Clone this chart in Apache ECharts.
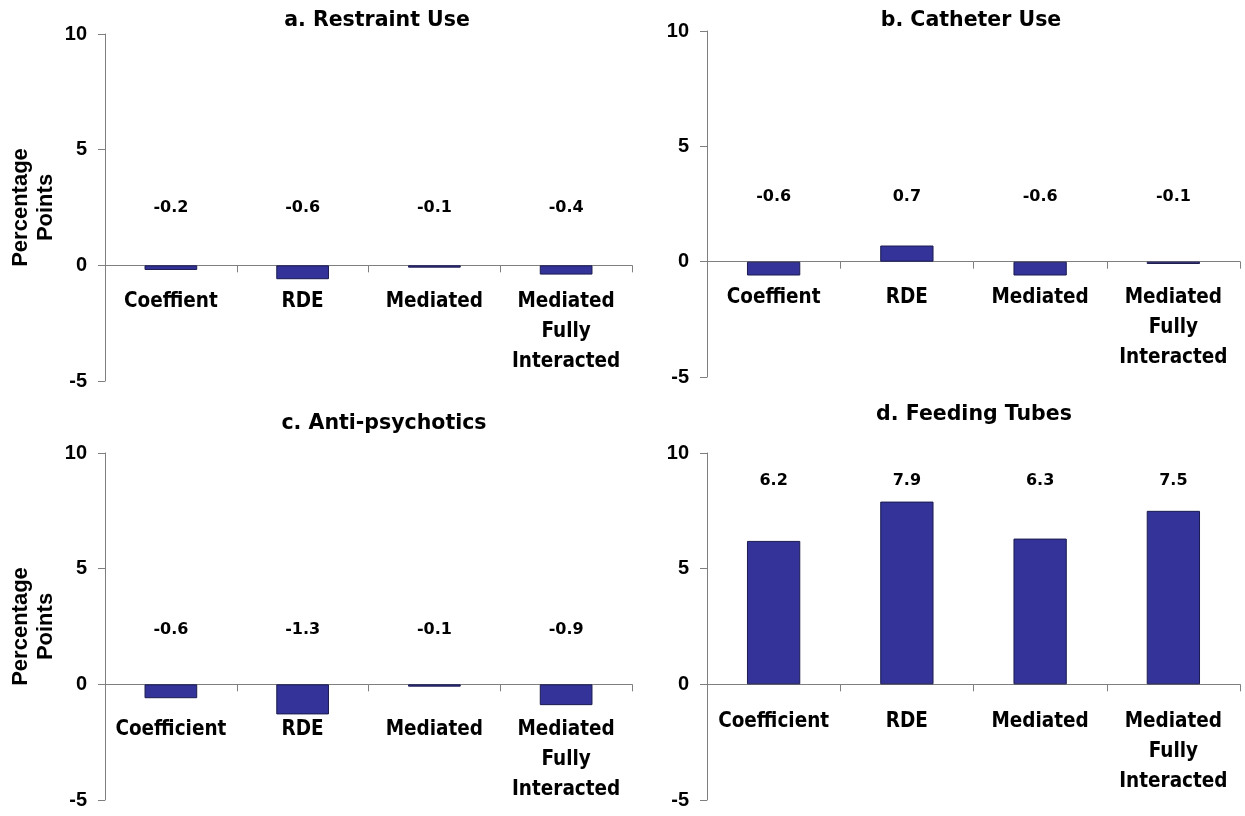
<!DOCTYPE html>
<html>
<head>
<meta charset="utf-8">
<script src="https://cdn.jsdelivr.net/npm/echarts@6/dist/echarts.min.js"></script>
<style>
html,body{margin:0;padding:0;background:#fff;}
#chart{width:1245px;height:816px;}
</style>
</head>
<body>
<div id="chart"></div>
<script>
// ---- data ----
const panelTitles = ['a. Restraint Use', 'b. Catheter Use', 'c. Anti-psychotics', 'd. Feeding Tubes'];
const categoriesTop = ['Coeffient', 'RDE', 'Mediated', 'Mediated\nFully\nInteracted'];
const categoriesBottom = ['Coefficient', 'RDE', 'Mediated', 'Mediated\nFully\nInteracted'];
const restraintUse = [-0.2, -0.6, -0.1, -0.4];
const catheterUse = [-0.6, 0.7, -0.6, -0.1];
const antiPsychotics = [-0.6, -1.3, -0.1, -0.9];
const feedingTubes = [6.2, 7.9, 6.3, 7.5];
const yAxisMin = -5, yAxisMax = 10, yAxisInterval = 5;
const yAxisName = 'Percentage\nPoints';

// ---- layout ----
const panels = [
  { title: panelTitles[0], cats: categoriesTop, values: restraintUse, grid: { left: 105, top: 34, width: 527, height: 347 }, titlePos: [377, 21], labelLevel: 2.5, catGap: 21, showName: true },
  { title: panelTitles[1], cats: categoriesTop, values: catheterUse, grid: { left: 707, top: 31, width: 533, height: 346 }, titlePos: [971, 21], labelLevel: 2.8, catGap: 21, showName: false },
  { title: panelTitles[2], cats: categoriesBottom, values: antiPsychotics, grid: { left: 105, top: 453, width: 527, height: 347 }, titlePos: [384, 424], labelLevel: 2.35, catGap: 30, showName: true },
  { title: panelTitles[3], cats: categoriesBottom, values: feedingTubes, grid: { left: 707, top: 453, width: 533, height: 347 }, titlePos: [974, 415], labelLevel: 8.8, catGap: 22, showName: false }
];

const axisGray = '#7f7f7f';
const catFont = "'DejaVu Sans Condensed', 'DejaVu Sans', sans-serif";
const tickFont = "'Liberation Sans', Arial, sans-serif";

const grids = [], xAxes = [], yAxes = [], series = [], graphics = [];
panels.forEach((p, i) => {
  grids.push(Object.assign({ containLabel: false, outerBoundsMode: 'none' }, p.grid));
  xAxes.push({
    type: 'category', gridIndex: i, data: p.cats,
    axisLine: { onZero: true, lineStyle: { color: axisGray, width: 1 } },
    axisTick: { show: true, length: 7, inside: false, lineStyle: { color: axisGray } },
    axisLabel: { show: false },
    splitLine: { show: false }
  });
  yAxes.push({
    type: 'value', gridIndex: i, min: yAxisMin, max: yAxisMax, interval: yAxisInterval,
    name: p.showName ? yAxisName : '', nameLocation: 'middle', nameRotate: 90, nameGap: 47,
    nameTextStyle: { color: '#000', fontWeight: 'bold', fontSize: 22, lineHeight: 25, fontFamily: tickFont },
    axisLine: { show: true, lineStyle: { color: axisGray, width: 1 } },
    axisTick: { show: true, length: 7, lineStyle: { color: axisGray } },
    axisLabel: { margin: 18, color: '#000', fontWeight: 'bold', fontSize: 20, fontFamily: tickFont },
    splitLine: { show: false }
  });
  series.push({
    type: 'bar', xAxisIndex: i, yAxisIndex: i, data: p.values, barWidth: '40%',
    itemStyle: { color: '#333399', borderColor: '#1b1b4f', borderWidth: 1 },
    animation: false
  });
  // value labels
  series.push({
    type: 'scatter', xAxisIndex: i, yAxisIndex: i, symbolSize: 0,
    itemStyle: { opacity: 1 },
    data: p.values.map((v, k) => [k, p.labelLevel, v]),
    label: { show: true, position: 'inside', formatter: d => d.value[2].toFixed(1), color: '#000', textBorderWidth: 0, fontWeight: 'bold', fontSize: 16, fontFamily: "'DejaVu Sans', sans-serif" },
    silent: true, animation: false
  });
  // category labels hanging below the zero line
  series.push({
    type: 'scatter', xAxisIndex: i, yAxisIndex: i, symbolSize: 0,
    itemStyle: { opacity: 1 },
    data: p.cats.map((c, k) => [k, 0, c]),
    label: { show: true, position: 'bottom', distance: p.catGap, align: 'center', verticalAlign: 'top', formatter: d => d.value[2], color: '#000', textBorderWidth: 0, fontWeight: 'bold', fontSize: 20.5, lineHeight: 30, fontFamily: catFont },
    silent: true, animation: false
  });
  graphics.push({
    type: 'text', x: p.titlePos[0], y: p.titlePos[1],
    style: { text: p.title, fill: '#000', font: "bold 20.5px 'DejaVu Sans', sans-serif", textAlign: 'center', textVerticalAlign: 'middle' }
  });
});

const chart = echarts.init(document.getElementById('chart'), null, { renderer: 'canvas' });
chart.setOption({
  backgroundColor: '#ffffff',
  animation: false,
  grid: grids, xAxis: xAxes, yAxis: yAxes, series: series, graphic: graphics
});
</script>
</body>
</html>
